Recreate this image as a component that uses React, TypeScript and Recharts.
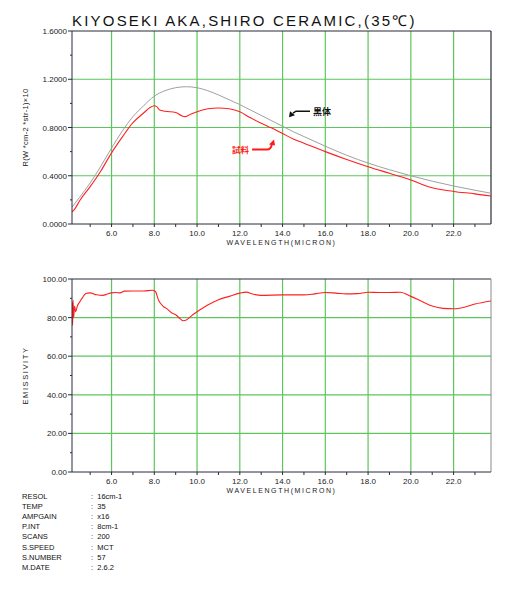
import { LineChart, Line, CartesianGrid, XAxis, YAxis, ReferenceLine, ReferenceDot } from 'recharts';

// top chart: spectral radiance R (W*cm-2*str-1)x10
const bbX = [4.15, 4.5, 5.0, 5.5, 6.0, 6.5, 7.0, 7.5, 8.0, 8.5, 9.0, 9.5, 10.0, 10.5, 11.0, 11.5, 12.0, 12.5, 13.0, 13.5, 14.0, 14.5, 15.0, 16.0, 17.0, 18.0, 19.0, 20.0, 21.0, 22.0, 23.0, 23.75];
const bbR = [0.14, 0.22, 0.34, 0.48, 0.63, 0.77, 0.89, 0.98, 1.06, 1.105, 1.13, 1.138, 1.13, 1.105, 1.07, 1.03, 0.99, 0.945, 0.90, 0.855, 0.81, 0.765, 0.725, 0.645, 0.57, 0.505, 0.45, 0.40, 0.355, 0.315, 0.28, 0.255];

const smpX = [4.15, 4.3, 4.5, 5.0, 5.5, 6.0, 6.5, 7.0, 7.5, 7.8, 8.0, 8.1, 8.25, 8.5, 9.0, 9.3, 9.45, 9.7, 10.0, 10.5, 11.0, 11.5, 12.0, 12.5, 13.0, 13.5, 14.0, 14.5, 15.0, 16.0, 17.0, 18.0, 19.0, 20.0, 20.5, 21.0, 22.0, 23.0, 23.75];
const smpR = [0.10, 0.13, 0.19, 0.31, 0.44, 0.59, 0.72, 0.84, 0.92, 0.965, 0.98, 0.975, 0.945, 0.935, 0.925, 0.895, 0.89, 0.91, 0.93, 0.955, 0.962, 0.955, 0.93, 0.88, 0.835, 0.795, 0.75, 0.705, 0.67, 0.60, 0.535, 0.475, 0.42, 0.365, 0.33, 0.30, 0.27, 0.25, 0.232];

// bottom chart: emissivity (%)
const emX = [4.15, 4.16, 4.18, 4.2, 4.23, 4.27, 4.32, 4.4, 4.5, 4.65, 4.8, 5.0, 5.3, 5.6, 5.8, 6.0, 6.2, 6.4, 6.6, 7.0, 7.5, 7.9, 8.05, 8.2, 8.4, 8.6, 8.8, 9.0, 9.2, 9.35, 9.5, 9.8, 10.0, 10.5, 11.0, 11.5, 12.0, 12.3, 12.6, 13.0, 14.0, 15.0, 15.5, 16.0, 16.5, 17.0, 17.5, 18.0, 18.5, 19.0, 19.5, 20.0, 20.5, 21.0, 21.5, 22.0, 22.5, 23.0, 23.75];
const emE = [88, 82, 76, 89, 80, 86, 83, 86, 88, 90.5, 92.5, 92.8, 91.8, 91.5, 92.2, 92.8, 93, 92.8, 93.7, 93.8, 93.8, 94.2, 93.5, 89, 86, 84.5, 82.5, 81.5, 79.5, 78.4, 78.8, 81.5, 83, 86.5, 89.3, 91, 92.7, 93.2, 92.2, 91.5, 91.8, 91.8, 92.3, 93, 92.7, 92.3, 92.4, 93.1, 93, 93, 93.1, 91, 88.5, 86, 84.8, 84.6, 85.4, 87, 88.6];

const xDomain = [4.15, 23.75];
const xTicks = [5, 6, 7, 8, 9, 10, 11, 12, 13, 14, 15, 16, 17, 18, 19, 20, 21, 22, 23];
const xGrid = [6, 8, 10, 12, 14, 16, 18, 20, 22];

const rTicks = [0, 0.2, 0.4, 0.6, 0.8, 1.0, 1.2, 1.4, 1.6];
const rGrid = [0.4, 0.8, 1.2];
const eTicks = [0, 10, 20, 30, 40, 50, 60, 70, 80, 90, 100];
const eGrid = [20, 40, 60, 80];

const infoLabels = ['RESOL', 'TEMP', 'AMPGAIN', 'P.INT', 'SCANS', 'S.SPEED', 'S.NUMBER', 'M.DATE'];
const infoValues = ['16cm-1', '35', 'x16', '8cm-1', '200', 'MCT', '57', '2.6.2'];

const bb = bbX.map((x, i) => ({ x, v: bbR[i] }));
const smp = smpX.map((x, i) => ({ x, v: smpR[i] }));
const em = emX.map((x, i) => ({ x, v: emE[i] }));

const FONT = '"Liberation Sans", Arial, sans-serif';
const AXIS = '#2a2a3a';
const GRID = '#5cc65c';

const XTick = (props: any) => {
  const { x, y, payload } = props;
  const v = payload.value;
  const major = v % 2 === 0;
  return (
    <g>
      <line x1={x} x2={x} y1={y} y2={y + 3} stroke={AXIS} strokeWidth={1} />
      {major && (
        <text x={x} y={y + 12} textAnchor="middle" fontSize={8} fontFamily={FONT} fill="#1a1a1a">
          {v.toFixed(1)}
        </text>
      )}
    </g>
  );
};

const makeYTick = (every: number, digits: number) => (props: any) => {
  const { x, y, payload } = props;
  const v = payload.value;
  const major = Math.abs(v / every - Math.round(v / every)) < 1e-6;
  return (
    <g>
      <line x1={x} x2={x - (major ? 4 : 2)} y1={y} y2={y} stroke={AXIS} strokeWidth={1} />
      {major && (
        <text x={x - 5} y={y + 3} textAnchor="end" fontSize={8} fontFamily={FONT} fill="#1a1a1a">
          {v.toFixed(digits)}
        </text>
      )}
    </g>
  );
};

const xLabel = ({ viewBox }: any) => (
  <text
    x={viewBox.x + viewBox.width / 2}
    y={viewBox.y + 21}
    textAnchor="middle"
    fontSize={7}
    letterSpacing={1.6}
    fontFamily={FONT}
    fill="#1a1a1a"
  >
    WAVELENGTH(MICRON)
  </text>
);

const yLabel = (text: string, spacing: number) => ({ viewBox }: any) => {
  const cx = viewBox.x + 20;
  const cy = viewBox.y + viewBox.height / 2;
  return (
    <text
      x={cx}
      y={cy}
      transform={`rotate(-90 ${cx} ${cy})`}
      textAnchor="middle"
      fontSize={7.5}
      letterSpacing={spacing}
      fontFamily={FONT}
      fill="#1a1a1a"
    >
      {text}
    </text>
  );
};

const BlackArrow = (props: any) => {
  const { cx, cy } = props;
  return (
    <g>
      <path d={`M${cx + 4},${cy - 4} L${cx + 7},${cy - 6} L${cx + 21},${cy - 6}`} fill="none" stroke="#111" strokeWidth={1.5} />
      <path d={`M${cx},${cy} L${cx + 1},${cy - 6} L${cx + 6},${cy - 2} Z`} fill="#111" />
      <text x={cx + 24} y={cy - 2} fontSize={9} fontWeight="bold" fontFamily='"Noto Sans CJK JP", sans-serif' fill="#111">
        黒体
      </text>
    </g>
  );
};

const RedArrow = (props: any) => {
  const { cx, cy } = props;
  return (
    <g>
      <path d={`M${cx - 22},${cy + 10} L${cx - 7},${cy + 10} Q${cx - 3},${cy + 10} ${cx - 2},${cy + 4}`} fill="none" stroke="#ff1a1a" strokeWidth={2} />
      <path d={`M${cx},${cy} L${cx - 5},${cy + 5} L${cx + 1},${cy + 6} Z`} fill="#ff1a1a" />
      <text x={cx - 25} y={cy + 13} textAnchor="end" fontSize={8.5} fontWeight="bold" fontFamily='"Noto Sans CJK JP", sans-serif' fill="#ff1a1a">
        試料
      </text>
    </g>
  );
};

const App = () => (
  <div style={{ position: 'absolute', left: 0, top: 0, width: 514, height: 605, background: '#fff', fontFamily: FONT }}>
    <div
      style={{
        position: 'absolute',
        left: 72,
        top: 10,
        fontSize: 15,
        letterSpacing: 2.2,
        color: '#111',
        whiteSpace: 'nowrap',
      }}
    >
      KIYOSEKI AKA,SHIRO CERAMIC,(35℃)
    </div>

    <div style={{ position: 'absolute', left: 0, top: 0 }}>
      <LineChart width={514} height={260} margin={{ top: 31, right: 23, bottom: 0, left: 8 }}>
        <CartesianGrid stroke={GRID} strokeWidth={1.2} horizontalValues={rGrid} verticalValues={xGrid} />
        <XAxis
          type="number"
          dataKey="x"
          domain={xDomain}
          allowDataOverflow
          ticks={xTicks}
          tick={<XTick />}
          tickLine={false}
          tickSize={0}
          tickMargin={0}
          height={36}
          stroke={AXIS}
          interval={0}
          label={xLabel}
        />
        <YAxis
          type="number"
          domain={[0, 1.6]}
          ticks={rTicks}
          tick={makeYTick(0.4, 4)}
          tickLine={false}
          tickSize={0}
          tickMargin={0}
          width={64}
          stroke={AXIS}
          interval={0}
          label={yLabel('R(W *cm-2 *str-1)×10', 0.3)}
        />
        <ReferenceLine y={1.6} stroke={AXIS} strokeWidth={1.2} />
        <ReferenceLine x={23.75} stroke={AXIS} strokeWidth={1.2} />
        <Line data={bb} dataKey="v" type="monotone" stroke="#a0a0a0" strokeWidth={1} dot={false} isAnimationActive={false} />
        <Line data={smp} dataKey="v" type="monotone" stroke="#ff2020" strokeWidth={1.1} dot={false} isAnimationActive={false} />
        <ReferenceDot x={14.3} y={0.886} r={0} shape={BlackArrow} />
        <ReferenceDot x={13.6} y={0.7} r={0} shape={RedArrow} />
      </LineChart>
    </div>

    <div style={{ position: 'absolute', left: 0, top: 250 }}>
      <LineChart width={514} height={260} margin={{ top: 29, right: 23, bottom: 0, left: 8 }}>
        <CartesianGrid stroke={GRID} strokeWidth={1.2} horizontalValues={eGrid} verticalValues={xGrid} />
        <XAxis
          type="number"
          dataKey="x"
          domain={xDomain}
          allowDataOverflow
          ticks={xTicks}
          tick={<XTick />}
          tickLine={false}
          tickSize={0}
          tickMargin={0}
          height={38}
          stroke={AXIS}
          interval={0}
          label={xLabel}
        />
        <YAxis
          type="number"
          domain={[0, 100]}
          ticks={eTicks}
          tick={makeYTick(20, 2)}
          tickLine={false}
          tickSize={0}
          tickMargin={0}
          width={64}
          stroke={AXIS}
          interval={0}
          label={yLabel('EMISSIVITY', 1.6)}
        />
        <ReferenceLine y={100} stroke={AXIS} strokeWidth={1.2} />
        <ReferenceLine x={23.75} stroke="#8a8a8a" strokeWidth={1} />
        <Line data={em} dataKey="v" type="monotone" stroke="#ff2020" strokeWidth={1.1} dot={false} isAnimationActive={false} />
      </LineChart>
    </div>

    {infoLabels.map((lab, i) => (
      <div
        key={lab}
        style={{ position: 'absolute', left: 22, top: 492 + i * 10.1, fontSize: 7.5, lineHeight: '10px', color: '#111', whiteSpace: 'nowrap' }}
      >
        <span style={{ display: 'inline-block', width: 69 }}>{lab}</span>
        <span>:&nbsp;&nbsp;{infoValues[i]}</span>
      </div>
    ))}
  </div>
);

export default App;
